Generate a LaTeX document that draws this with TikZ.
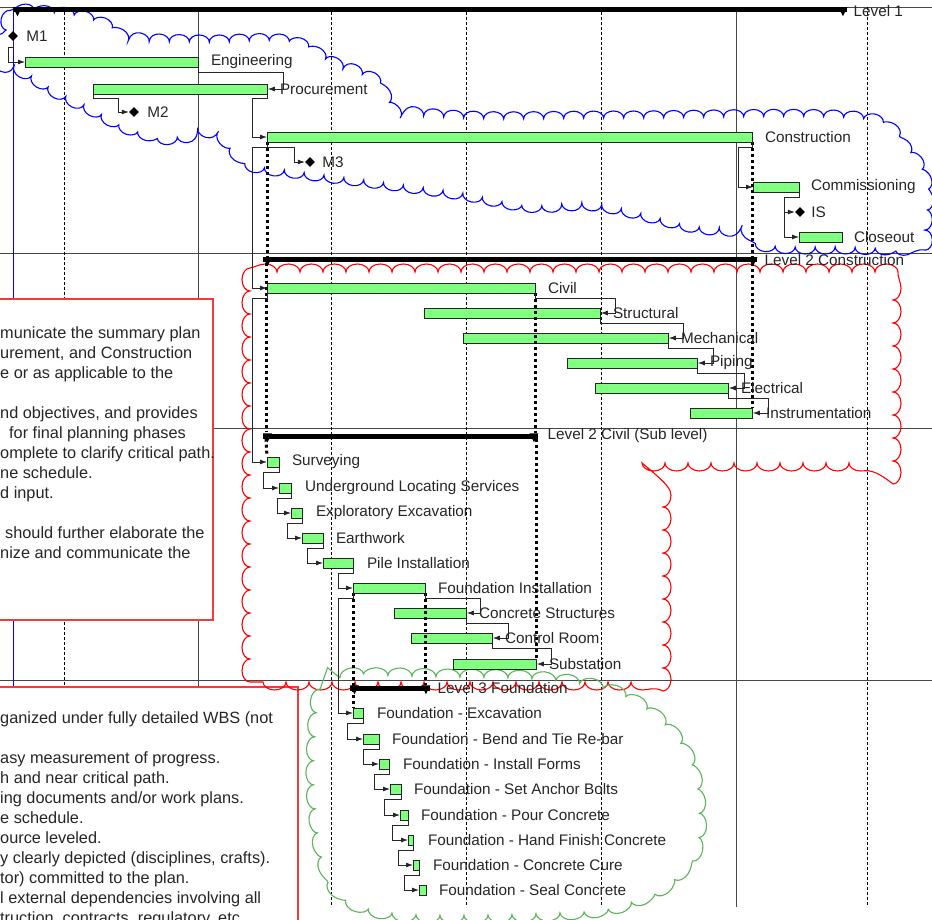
\documentclass[tikz,border=0pt]{standalone}
\usepackage{fontspec}
\setmainfont{Liberation Sans}
\usetikzlibrary{positioning, calc, shapes.geometric, decorations.pathmorphing, arrows.meta}

\definecolor{taskgreen}{RGB}{128,255,128}
\definecolor{gridgray}{RGB}{70,70,70}
\definecolor{boxred}{RGB}{240,60,60}
\definecolor{cloudgreen}{RGB}{90,180,90}
\newcommand{\ganttfont}{\fontsize{15.3}{18}\selectfont}
\newcommand{\notefont}{\fontsize{16.3}{20}\selectfont}

\begin{document}
\begin{tikzpicture}[
    x=1pt, y=-1pt,
    node distance=12pt,
    task/.style={draw=black!85, fill=taskgreen, minimum height=10pt, inner sep=0pt, anchor=west, line width=0.8pt},
    tasklabel/.style={font=\ganttfont, inner sep=0pt, text=black!85},
    milestone/.style={diamond, fill=black, minimum size=10pt, inner sep=0pt},
    summary/.style={fill=black, minimum height=5pt, inner sep=0pt, anchor=west},
    link/.style={draw=black!85, line width=0.8pt, -{Latex[length=7pt,width=5pt]}},
    rollup/.style={line width=3pt, dash pattern=on 3pt off 3pt},
    dashgrid/.style={line width=0.7pt, dash pattern=on 3pt off 2pt},
    solidgrid/.style={gridgray, line width=0.8pt},
    cloudline/.style={line width=1.1pt, decorate, decoration={bumps, segment length=40pt, amplitude=7pt}},
    notebox/.style={draw=boxred, fill=white, line width=1.1pt},
    notetext/.style={anchor=north west, inner sep=0pt, align=left, font=\notefont, text=black!85}
  ]
  \useasboundingbox (0,0) rectangle (932,920);

  % Timescale grid
  \draw[solidgrid] (0,7) -- (932,7);
  \foreach \y in {253,428,680} \draw[solidgrid] (0,\y) -- (932,\y);
  \draw[blue, line width=0.8pt] (13,7) -- (13,907);
  \foreach \x in {64,331,466,601,867} \draw[dashgrid] (\x,7) -- (\x,907);
  \foreach \x in {198,736} \draw[solidgrid] (\x,7) -- (\x,907);

  % Notes, cut off at the left edge
  \draw[notebox] (-2,299) rectangle (213,620);
  \node[notetext] (notesA) at (0,326) {municate the summary plan\\
    urement, and Construction\\
    e or as applicable to the\\[20pt]
    nd objectives, and provides\\
    \hspace*{9pt}for final planning phases\\
    omplete to clarify critical path.\\
    ne schedule.\\
    d input.\\[20pt]
    \hspace*{5pt}should further elaborate the\\
    nize and communicate the};

  \draw[notebox] (-2,687) rectangle (298,930);
  \node[notetext] (notesB) at (0,711) {ganized under fully detailed WBS (not\\[20pt]
    asy measurement of progress.\\
    h and near critical path.\\
    ing documents and/or work plans.\\
    e schedule.\\
    ource leveled.\\
    y clearly depicted (disciplines, crafts).\\
    tor) committed to the plan.\\
    l external dependencies involving all\\
    truction, contracts, regulatory, etc};

  % Revision clouds
  \draw[blue, cloudline] plot[smooth cycle, tension=0.6] coordinates {
    (4,62) (6,30) (14,14) (60,14) (95,22) (130,38) (200,42) (285,42) (330,62)
    (375,82) (392,108) (470,118) (620,118) (850,118) (895,140) (922,175)
    (925,220) (915,245) (840,247) (770,245) (745,232) (690,225) (600,205)
    (530,205) (460,193) (380,182) (300,172) (255,165) (235,150) (215,133)
    (170,137) (130,128) (100,113) (60,93) (30,75)};
  \draw[red, cloudline, decoration={bumps, segment length=46pt, amplitude=8pt}]
    (250,682) -- (250,272) -- (893,272) -- (893,463) -- (663,463) -- (663,682) -- cycle;
  \draw[cloudgreen, cloudline, decoration={bumps, segment length=48pt, amplitude=8pt}] plot[smooth cycle, tension=0.6] coordinates {
    (320,700) (340,678) (450,677) (545,680) (610,692) (655,718) (685,755)
    (697,800) (695,845) (672,878) (640,897) (590,910) (480,915) (390,912)
    (345,895) (325,860) (315,800) (315,740)};

  % Summary bars
  \node[summary, minimum width=834pt] (lvone) at (13,10) {};
  \node[summary, minimum width=494pt] (lvcon) at (263,260) {};
  \node[summary, minimum width=275pt] (lvcivil) at (263,436) {};
  \node[summary, minimum width=80pt] (lvfound) at (350,688) {};
  \foreach \b in {lvone,lvcon,lvcivil,lvfound} {
    \fill (\b.north west) -- ++(9,0) -- ++(-4.5,9) -- cycle;
    \fill (\b.north east) -- ++(-9,0) -- ++(4.5,9) -- cycle;
  }
  \node[tasklabel, right=6pt of lvone, yshift=-1pt] (lvonelbl) {Level 1};
  \node[tasklabel, right=7pt of lvcon] (lvconlbl) {Level 2 Construction};
  \node[tasklabel, right=9pt of lvcivil] (lvcivillbl) {Level 2 Civil (Sub level)};
  \node[tasklabel, right=7pt of lvfound] (lvfoundlbl) {Level 3 Foundation};

  % Level 1 tasks
  \node[milestone] (m1) at (13,36) {};
  \node[task, minimum width=173pt] (eng) at (25,62) {};
  \node[task, minimum width=174pt] (proc) at (93,89) {};
  \node[milestone] (m2) at (134,112) {};
  \node[task, minimum width=485pt] (cons) at (267,137) {};
  \node[milestone] (m3) at (310,162) {};
  \node[task, minimum width=46pt] (comm) at (753,187) {};
  \node[milestone] (ismile) at (800,212) {};
  \node[task, minimum width=43pt] (close) at (799,237) {};

  % Level 2 Construction tasks
  \node[task, minimum width=268pt] (civil) at (267,288) {};
  \node[task, minimum width=176pt] (struct) at (424,313) {};
  \node[task, minimum width=205pt] (mech) at (463,338) {};
  \node[task, minimum width=130pt] (piping) at (567,363) {};
  \node[task, minimum width=133pt] (elec) at (595,388) {};
  \node[task, minimum width=62pt] (instr) at (690,413) {};

  % Level 2 Civil tasks
  \node[task, minimum width=12pt] (surv) at (267,462) {};
  \node[task, minimum width=12pt] (uls) at (279,488) {};
  \node[task, minimum width=11pt] (explor) at (291,513) {};
  \node[task, minimum width=21pt] (earth) at (302,538) {};
  \node[task, minimum width=30pt] (pile) at (323,563) {};
  \node[task, minimum width=72pt] (found) at (353,588) {};
  \node[task, minimum width=72pt] (cstr) at (394,613) {};
  \node[task, minimum width=81pt] (ctrl) at (411,638) {};
  \node[task, minimum width=83pt] (subst) at (453,664) {};

  % Level 3 Foundation tasks
  \node[task, minimum width=10pt] (fexc) at (353,713) {};
  \node[task, minimum width=16pt] (fbend) at (363,739) {};
  \node[task, minimum width=10pt] (fform) at (379,764) {};
  \node[task, minimum width=11pt] (fbolt) at (390,789) {};
  \node[task, minimum width=8pt] (fpour) at (400,815) {};
  \node[task, minimum width=5pt] (ffinish) at (408,840) {};
  \node[task, minimum width=6pt] (fcure) at (413,865) {};
  \node[task, minimum width=7pt] (fseal) at (419,890) {};

  % Roll-up lines
  \draw[rollup] (cons.south west) -- (cons.south west |- lvcon.north);
  \draw[rollup] (cons.south east) -- (cons.south east |- lvcon.north);
  \draw[rollup] (lvcon.south west) ++(3,0) -- (266,431);
  \draw[rollup] (instr.north east |- lvcon.south) -- (instr.north east);
  \draw[rollup] (civil.south east) -- (civil.south east |- lvcivil.north);
  \draw[rollup] (lvcivil.south west) ++(3,0) -- (surv.north west);
  \draw[rollup] (subst.north east |- lvcivil.south) -- (subst.north east);
  \draw[rollup] (found.south west) -- (fexc.north west);
  \draw[rollup] (found.south east) -- (found.south east |- lvfound.north);

  % Labels
  \node[tasklabel, right=8pt of m1] (m1lbl) {M1};
  \node[tasklabel, right=of eng] (englbl) {Engineering};
  \node[tasklabel, right=of proc] (proclbl) {Procurement};
  \node[tasklabel, right=8pt of m2] (m2lbl) {M2};
  \node[tasklabel, right=of cons] (conslbl) {Construction};
  \node[tasklabel, right=7pt of m3] (m3lbl) {M3};
  \node[tasklabel, right=11pt of comm] (commlbl) {Commissioning};
  \node[tasklabel, right=6pt of ismile] (islbl) {IS};
  \node[tasklabel, right=11pt of close] (closelbl) {Closeout};
  \node[tasklabel, right=of civil] (civillbl) {Civil};
  \node[tasklabel, right=of struct] (structlbl) {Structural};
  \node[tasklabel, right=of mech] (mechlbl) {Mechanical};
  \node[tasklabel, right=of piping] (pipinglbl) {Piping};
  \node[tasklabel, right=of elec] (eleclbl) {Electrical};
  \node[tasklabel, right=13pt of instr] (instrlbl) {Instrumentation};
  \node[tasklabel, right=of surv] (survlbl) {Surveying};
  \node[tasklabel, right=13pt of uls] (ulslbl) {Underground Locating Services};
  \node[tasklabel, right=13pt of explor] (explorlbl) {Exploratory Excavation};
  \node[tasklabel, right=of earth] (earthlbl) {Earthwork};
  \node[tasklabel, right=13pt of pile] (pilelbl) {Pile Installation};
  \node[tasklabel, right=of found] (foundlbl) {Foundation Installation};
  \node[tasklabel, right=of cstr] (cstrlbl) {Concrete Structures};
  \node[tasklabel, right=of ctrl] (ctrllbl) {Control Room};
  \node[tasklabel, right=of subst] (substlbl) {Substation};
  \node[tasklabel, right=13pt of fexc] (fexclbl) {Foundation - Excavation};
  \node[tasklabel, right=of fbend] (fbendlbl) {Foundation - Bend and Tie Re-bar};
  \node[tasklabel, right=13pt of fform] (fformlbl) {Foundation - Install Forms};
  \node[tasklabel, right=of fbolt] (fboltlbl) {Foundation - Set Anchor Bolts};
  \node[tasklabel, right=of fpour] (fpourlbl) {Foundation - Pour Concrete};
  \node[tasklabel, right=14pt of ffinish] (ffinishlbl) {Foundation - Hand Finish Concrete};
  \node[tasklabel, right=13pt of fcure] (fcurelbl) {Foundation - Concrete Cure};
  \node[tasklabel, right=of fseal] (fseallbl) {Foundation - Seal Concrete};

  % Level 1 links
  \draw[link] (m1.south) -- ++(0,6) -- ++(-5,0) |- (eng.west);
  \draw[link] (eng.south east) -- ++(0,5) -| ($(proc.east)+(16,0)$) -- (proc.east);
  \draw[link] (proc.south west) -- ++(0,4) -| ($(m2.west)+(-10,0)$) -- (m2.west);
  \draw[link] (proc.south east) -- ++(0,4) -| ($(cons.west)+(-15,0)$) -- (cons.west);
  \draw[link] (cons.south west) -- ++(0,5) -| ($(m3.west)+(-10,0)$) -- (m3.west);
  \draw[link] (cons.south west) -- ++(0,5) -| ($(civil.west)+(-15,0)$) -- (civil.west);
  \draw[link] (cons.south east) -- ++(0,5) -| ($(comm.west)+(-15,0)$) -- (comm.west);
  \draw[link] (comm.south east) -- ++(0,5) -| ($(ismile.west)+(-10,0)$) -- (ismile.west);
  \draw[link] (comm.south east) -- ++(0,5) -| ($(close.west)+(-15,0)$) -- (close.west);

  % Level 2 Construction links
  \draw[link] (civil.south east) -- ++(0,5) -| ($(struct.east)+(15,0)$) -- (struct.east);
  \draw[link] (struct.south east) -- ++(0,5) -| ($(mech.east)+(15,0)$) -- (mech.east);
  \draw[link] (mech.south east) -- ++(0,5) -| ($(piping.east)+(16,0)$) -- (piping.east);
  \draw[link] (piping.south east) -- ++(0,5) -| ($(elec.east)+(16,0)$) -- (elec.east);
  \draw[link] (elec.south east) -- ++(0,5) -| ($(instr.east)+(16,0)$) -- (instr.east);
  \draw[link] (civil.south west) -- ++(0,5) -| ($(surv.west)+(-15,0)$) -- (surv.west);

  % Level 2 Civil links
  \draw[link] (surv.south east) -- ++(0,5) -| ($(uls.west)+(-16,0)$) -- (uls.west);
  \draw[link] (uls.south east) -- ++(0,5) -| ($(explor.west)+(-14,0)$) -- (explor.west);
  \draw[link] (explor.south east) -- ++(0,5) -| ($(earth.west)+(-15,0)$) -- (earth.west);
  \draw[link] (earth.south east) -- ++(0,5) -| ($(pile.west)+(-16,0)$) -- (pile.west);
  \draw[link] (pile.south east) -- ++(0,5) -| ($(found.west)+(-15,0)$) -- (found.west);
  \draw[link] (found.south east) -- ++(0,5) -| ($(cstr.east)+(14,0)$) -- (cstr.east);
  \draw[link] (cstr.south east) -- ++(0,5) -| ($(ctrl.east)+(16,0)$) -- (ctrl.east);
  \draw[link] (ctrl.south east) -- ++(0,5) -| ($(subst.east)+(15,0)$) -- (subst.east);
  \draw[link] (found.south west) -- ++(0,5) -| ($(fexc.west)+(-15,0)$) -- (fexc.west);

  % Level 3 Foundation links
  \draw[link] (fexc.south east) -- ++(0,5) -| ($(fbend.west)+(-16,0)$) -- (fbend.west);
  \draw[link] (fbend.south east) -- ++(0,5) -| ($(fform.west)+(-16,0)$) -- (fform.west);
  \draw[link] (fform.south east) -- ++(0,5) -| ($(fbolt.west)+(-16,0)$) -- (fbolt.west);
  \draw[link] (fbolt.south east) -- ++(0,5) -| ($(fpour.west)+(-16,0)$) -- (fpour.west);
  \draw[link] (fpour.south east) -- ++(0,5) -| ($(ffinish.west)+(-16,0)$) -- (ffinish.west);
  \draw[link] (ffinish.south east) -- ++(0,5) -| ($(fcure.west)+(-15,0)$) -- (fcure.west);
  \draw[link] (fcure.south east) -- ++(0,5) -| ($(fseal.west)+(-15,0)$) -- (fseal.west);
\end{tikzpicture}
\end{document}
